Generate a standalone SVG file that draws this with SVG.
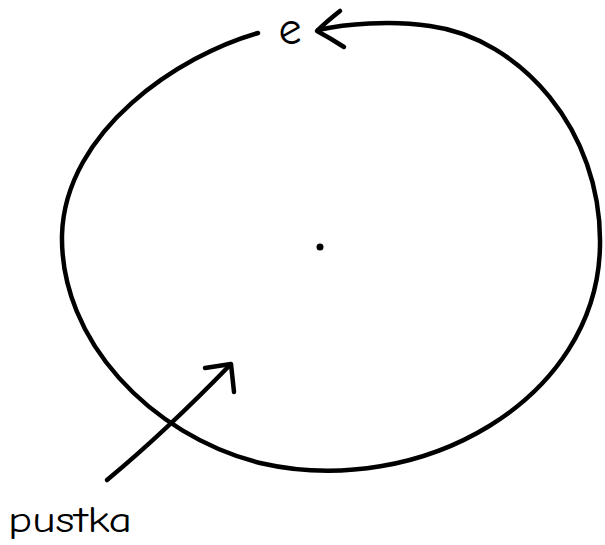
<svg xmlns="http://www.w3.org/2000/svg" width="605" height="545" viewBox="0 0 605 545">
<style>
.ink{fill:none;stroke:#000;stroke-width:4.5;stroke-linecap:round;stroke-linejoin:round}
.hand{font-family:"Comic Neue","Open Sans","DejaVu Sans",sans-serif;fill:#000}
</style>
<rect width="605" height="545" fill="#fff"/>
<g id="connectors">
<path id="loop" class="ink" d="M258,33 C180,55 65,130 62,235 C60,340 150,435 260,463 C420,500 598,400 600,245 C602,130 520,38 430,26 C390,20 345,24 318,30"/>
<path class="ink" d="M340,11 Q326,22 317,31 Q330,38 344,47"/>
<path id="pointer" class="ink" d="M107,480 Q165,432 230,365"/>
<path class="ink" d="M205,368 L231,364 L234,392"/>
</g>
<g id="node-e"><text class="hand" x="290" y="44" font-size="46" text-anchor="middle">e</text></g>
<g id="node-center"><circle cx="320" cy="247" r="3.5" fill="#000"/></g>
<g id="node-pustka"><text class="hand" x="8" y="532" font-size="37" textLength="124" lengthAdjust="spacingAndGlyphs">pustka</text></g>
</svg>
